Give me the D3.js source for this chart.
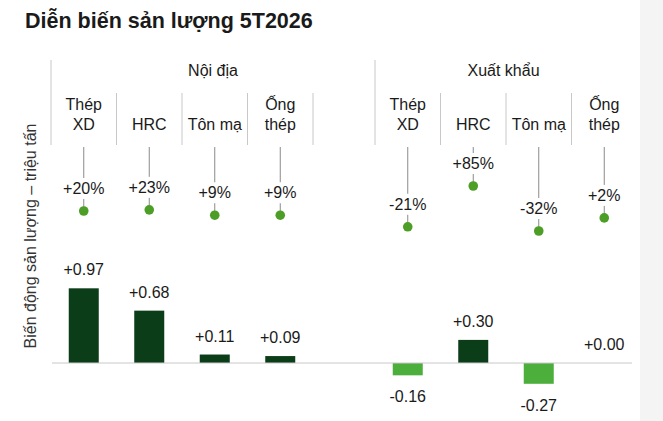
<!DOCTYPE html>
<html>
<head>
<meta charset="utf-8">
<script src="https://cdn.jsdelivr.net/npm/d3@7"></script>
<style>
  body { margin: 0; background: #fff; }
  text { font-family: "Liberation Sans", Arial, sans-serif; fill: #1a1a1a; }
</style>
</head>
<body>
<div id="container"></div>
<script>
// data
let groups = ["Nội địa", "Xuất khẩu"];
let categories = [["Thép", "XD"], ["HRC"], ["Tôn mạ"], ["Ống", "thép"]];
let domesticChange = [0.97, 0.68, 0.11, 0.09];   // triệu tấn
let exportChange = [-0.16, 0.30, -0.27, 0.00];
let domesticPct = [20, 23, 9, 9];               // %
let exportPct = [-21, 85, -32, 2];

let w = 663;
let h = 421;
let plotLeft = 51;
let plotRight = 632;

let viz = d3.select("#container")
  .append("svg")
    .attr("width", w)
    .attr("height", h)
    .style("display", "block")
;

// pale strip at the right edge
viz.append("rect")
    .attr("x", 640)
    .attr("y", 0)
    .attr("width", w - 640)
    .attr("height", h)
    .attr("fill", "#f4f4f4")
;

// build rows: group index, category index, values
let rows = [];
let changes = [domesticChange, exportChange];
let pcts = [domesticPct, exportPct];
groups.forEach(function(g, gi) {
  categories.forEach(function(c, ci) {
    rows.push({ group: gi, cat: ci, label: c, change: changes[gi][ci], pct: pcts[gi][ci] });
  });
});

// outer band per group, inner band per category
let groupScale = d3.scaleBand().domain(d3.range(groups.length)).range([plotLeft, plotLeft + 648]);
let catScale = d3.scaleBand().domain(d3.range(categories.length)).range([0, 262]);
let bw = catScale.bandwidth();
function colLeft(d) { return groupScale(d.group) + catScale(d.cat); }

let yScale = d3.scaleLinear().domain([0, 1]).range([363, 286]);
let pctScale = d3.scaleLinear().domain([-32, 85]).range([231, 186]);

let barWidth = 30;
let lineTop = 147;

// title
viz.append("text")
    .attr("x", 25)
    .attr("y", 28)
    .style("font-size", "21.5px")
    .style("font-weight", "bold")
    .text("Diễn biến sản lượng 5T2026")
;

// y axis title
viz.append("text")
    .attr("transform", "translate(36,236) rotate(-90)")
    .attr("text-anchor", "middle")
    .style("font-size", "16px")
    .style("fill", "#333")
    .text("Biến động sản lượng – triệu tấn")
;

// group headers + separators
groups.forEach(function(g, gi) {
  let x0 = groupScale(gi);
  let x1 = Math.min(x0 + groupScale.bandwidth(), plotRight);
  viz.append("line")
      .attr("x1", x0).attr("x2", x0)
      .attr("y1", 60).attr("y2", 145)
      .attr("stroke", "#c8c8c8")
  ;
  viz.append("text")
      .attr("x", (x0 + x1) / 2)
      .attr("y", 76)
      .attr("text-anchor", "middle")
      .style("font-size", "16px")
      .text(g)
  ;
  // column separators; the last group has no closing line
  let n = gi < groups.length - 1 ? categories.length : categories.length - 1;
  for (let ci = 1; ci <= n; ci++) {
    let x = x0 + catScale(ci - 1) + bw;
    viz.append("line")
        .attr("x1", x).attr("x2", x)
        .attr("y1", 93).attr("y2", 145)
        .attr("stroke", "#c8c8c8")
    ;
  }
});

let cols = viz.selectAll(".col").data(rows).enter()
  .append("g")
    .attr("class", "col")
    .attr("transform", d => "translate(" + (colLeft(d) + bw / 2) + ",0)")
;

// category labels, bottom aligned
cols.each(function(d) {
  let g = d3.select(this);
  let n = d.label.length;
  d.label.forEach(function(t, i) {
    g.append("text")
        .attr("x", 0)
        .attr("y", 130 - (n - 1 - i) * 20)
        .attr("text-anchor", "middle")
        .style("font-size", "16px")
        .text(t)
    ;
  });
});

// leader line down to the dot
cols.append("line")
    .attr("x1", 0).attr("x2", 0)
    .attr("y1", lineTop)
    .attr("y2", d => pctScale(d.pct))
    .attr("stroke", "#8a8a8a")
;
// white box behind percentage label
cols.append("rect")
    .attr("x", -24)
    .attr("y", d => pctScale(d.pct) - 17 - 16)
    .attr("width", 48)
    .attr("height", 21)
    .attr("fill", "#fff")
;
cols.append("text")
    .attr("x", 0)
    .attr("y", d => pctScale(d.pct) - 17)
    .attr("text-anchor", "middle")
    .style("font-size", "16px")
    .text(d => (d.pct >= 0 ? "+" : "") + d.pct + "%")
;
cols.append("circle")
    .attr("cx", 0)
    .attr("cy", d => pctScale(d.pct))
    .attr("r", 4.8)
    .attr("fill", "#4c9e26")
;

// baseline
viz.append("line")
    .attr("x1", plotLeft + 1).attr("x2", plotRight)
    .attr("y1", yScale(0)).attr("y2", yScale(0))
    .attr("stroke", "#c8c8c8")
;

// bars
cols.append("rect")
    .attr("x", -barWidth / 2)
    .attr("width", barWidth)
    .attr("y", d => Math.min(yScale(d.change), yScale(0)))
    .attr("height", d => Math.abs(yScale(d.change) - yScale(0)))
    .attr("fill", d => d.change < 0 ? "#4caf3c" : "#0b3d18")
;

// bar value labels
cols.append("text")
    .attr("x", 0)
    .attr("y", d => d.change < 0 ? yScale(d.change) + 27 : yScale(d.change) - 13)
    .attr("text-anchor", "middle")
    .style("font-size", "16px")
    .text(d => (d.change >= 0 ? "+" : "") + d.change.toFixed(2))
;
</script>
</body>
</html>
